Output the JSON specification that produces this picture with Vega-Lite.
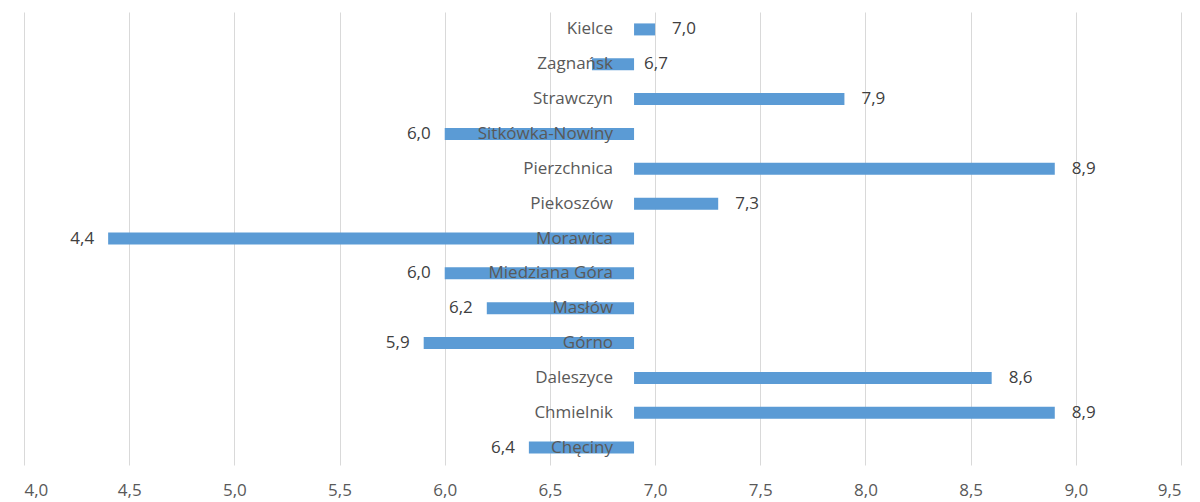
{
  "$schema": "https://vega.github.io/schema/vega-lite/v6.json",
  "width": 1157,
  "height": 453,
  "autosize": "none",
  "padding": {"left": 24, "top": 12, "right": 19, "bottom": 37},
  "background": "white",
  "config": {
    "view": {"stroke": null},
    "font": "Open Sans",
    "locale": {"number": {"decimal": ",", "thousands": " ", "grouping": [3], "currency": ["", " zł"]}}
  },
  "data": {
    "values": [
      {"gmina": "Kielce", "value": 7.0},
      {"gmina": "Zagnańsk", "value": 6.7},
      {"gmina": "Strawczyn", "value": 7.9},
      {"gmina": "Sitkówka-Nowiny", "value": 6.0},
      {"gmina": "Pierzchnica", "value": 8.9},
      {"gmina": "Piekoszów", "value": 7.3},
      {"gmina": "Morawica", "value": 4.4},
      {"gmina": "Miedziana Góra", "value": 6.0},
      {"gmina": "Masłów", "value": 6.2},
      {"gmina": "Górno", "value": 5.9},
      {"gmina": "Daleszyce", "value": 8.6},
      {"gmina": "Chmielnik", "value": 8.9},
      {"gmina": "Chęciny", "value": 6.4}
    ]
  },
  "encoding": {
    "y": {"field": "gmina", "type": "nominal", "sort": null, "axis": null, "scale": {"paddingInner": 0, "paddingOuter": 0}}
  },
  "layer": [
    {
      "mark": {"type": "bar", "color": "#5B9BD5", "height": 12},
      "encoding": {
        "x": {"field": "value", "type": "quantitative", "scale": {"domain": [4, 9.5], "nice": false, "zero": false},
          "axis": {"values": [4, 4.5, 5, 5.5, 6, 6.5, 7, 7.5, 8, 8.5, 9, 9.5], "format": ".1f", "title": null, "domain": false, "ticks": false,
            "grid": true, "gridColor": "#D9D9D9", "gridWidth": 1, "labelFontSize": 17, "labelColor": "#595959", "labelPadding": 17, "labelFont": "Open Sans"}},
        "x2": {"datum": 6.9}
      }
    },
    {
      "mark": {"type": "text", "align": "right", "baseline": "middle", "dx": -21, "fontSize": 17, "color": "#595959"},
      "encoding": {"x": {"datum": 6.9}, "text": {"field": "gmina"}}
    },
    {
      "transform": [{"filter": "datum.value > 6.9"}],
      "mark": {"type": "text", "align": "left", "baseline": "middle", "dx": 17, "fontSize": 17, "color": "#404040"},
      "encoding": {"x": {"field": "value", "type": "quantitative"}, "text": {"field": "value", "type": "quantitative", "format": ".1f"}}
    },
    {
      "transform": [{"filter": "datum.value < 6.9 && datum.gmina != 'Zagnańsk'"}],
      "mark": {"type": "text", "align": "right", "baseline": "middle", "dx": -14, "fontSize": 17, "color": "#404040"},
      "encoding": {"x": {"field": "value", "type": "quantitative"}, "text": {"field": "value", "type": "quantitative", "format": ".1f"}}
    },
    {
      "transform": [{"filter": "datum.gmina == 'Zagnańsk'"}],
      "mark": {"type": "text", "align": "left", "baseline": "middle", "dx": 10, "fontSize": 17, "color": "#404040"},
      "encoding": {"x": {"datum": 6.9}, "text": {"field": "value", "type": "quantitative", "format": ".1f"}}
    }
  ]
}
